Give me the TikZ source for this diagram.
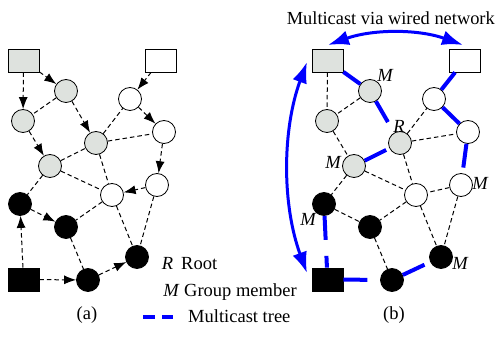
\documentclass[tikz,border=0pt]{standalone}
\usepackage{fontspec}
\setmainfont{Liberation Serif}
\usetikzlibrary{arrows.meta}
\definecolor{nodegray}{RGB}{222,226,222}
\definecolor{treeblue}{RGB}{0,0,255}
\begin{document}
\begin{tikzpicture}[x=1pt,y=-1pt,
  every node/.style={font=\fontsize{18.5}{22}\selectfont},
  cnode/.style={circle,draw,line width=0.8pt,minimum size=23pt,inner sep=0pt},
  gnode/.style={cnode,fill=nodegray},
  wnode/.style={cnode,fill=white},
  bnode/.style={cnode,fill=black},
  rnode/.style={rectangle,draw,line width=0.8pt,minimum width=31pt,minimum height=23pt,inner sep=0pt},
  link/.style={line width=1pt,dash pattern=on 4.5pt off 3pt},
  arr/.style={link,-{Latex[length=12pt,width=9pt]}},
  tree/.style={treeblue,line width=4pt,dash pattern=on 24pt off 16pt},
  big/.style={treeblue,line width=3pt,{Latex[length=21pt,width=15pt]}-{Latex[length=21pt,width=15pt]}},
  lbl/.style={font=\itshape\fontsize{18.5}{22}\selectfont,inner sep=0pt},
  txt/.style={inner sep=0pt}
]
\useasboundingbox (0,0) rectangle (496,339);

% ---------- panel (a) ----------
\node[rnode,fill=nodegray] (aGR) at (23.5,60.5) {};
\node[rnode,fill=white] (aWR) at (160.5,60.5) {};
\node[rnode,fill=black] (aBR) at (23.5,279.5) {};
\node[gnode] (ag1) at (66,91) {};
\node[gnode] (ag2) at (23,121) {};
\node[gnode] (ag3) at (96,143) {};
\node[gnode] (ag4) at (50,166) {};
\node[wnode] (aw1) at (130,99) {};
\node[wnode] (aw2) at (164,132) {};
\node[wnode] (aw3) at (157,185) {};
\node[wnode] (aw4) at (112,195) {};
\node[bnode] (ab1) at (20,204) {};
\node[bnode] (ab2) at (66,227) {};
\node[bnode] (ab3) at (137,257) {};
\node[bnode] (ab4) at (88,280) {};

\foreach \s/\t in {aGR/ag2,aGR/ag1,ag1/ag3,ag2/ag4,aWR/aw1,aw1/aw2,aw2/aw3,aw3/aw4,ab1/ab2,aBR/ab1,aBR/ab4,ab4/ab3}
  \draw[arr] (\s) -- (\t);
\foreach \s/\t in {ag1/ag2,ag4/ag3,ag3/aw1,ag3/aw2,ag3/aw4,ag4/aw4,ag4/ab1,aw4/ab2,aw4/ab3,aw3/ab3,ab2/ab4}
  \draw[link] (\s) -- (\t);

\node[txt,anchor=base] (capa) at (87,320) {(a)};

% ---------- panel (b) ----------
\node[rnode,fill=nodegray] (bGR) at (327.5,60.5) {};
\node[rnode,fill=white] (bWR) at (464.5,60.5) {};
\node[rnode,fill=black] (bBR) at (327.5,279.5) {};
\node[gnode] (bg1) at (370,91) {};
\node[gnode] (bg2) at (327,121) {};
\node[gnode] (bg3) at (400,143) {};
\node[gnode] (bg4) at (354,166) {};
\node[wnode] (bw1) at (434,99) {};
\node[wnode] (bw2) at (468,132) {};
\node[wnode] (bw3) at (461,185) {};
\node[wnode] (bw4) at (416,195) {};
\node[bnode] (bb1) at (324,204) {};
\node[bnode] (bb2) at (370,227) {};
\node[bnode] (bb3) at (441,257) {};
\node[bnode] (bb4) at (392,280) {};

\foreach \s/\t in {bGR/bg2,bg1/bg2,bg2/bg4,bg3/bw1,bg3/bw2,bg3/bw4,bg4/bw4,bg4/bb1,bw3/bw4,bw4/bb2,bw4/bb3,bw3/bb3,bb1/bb2,bb2/bb4}
  \draw[link] (\s) -- (\t);
\foreach \s/\t in {bGR/bg1,bg1/bg3,bg4/bg3,bWR/bw1,bw1/bw2,bw2/bw3,bb1/bBR,bBR/bb4,bb4/bb3}
  \draw[tree] (\s) -- (\t);

\node[lbl] (m1) at (385,75) {M};
\node[lbl] (rr) at (399,126) {R};
\node[lbl] (m2) at (333,162) {M};
\node[lbl] (m3) at (480,183) {M};
\node[lbl] (m4) at (308,219) {M};
\node[lbl] (m5) at (460,263) {M};

\coordinate (tl) at (328,45);
\coordinate (tr) at (463,45);
\coordinate (lt) at (307,62);
\coordinate (lb) at (307,273);
\draw[big] (tl) .. controls (373,29) and (418,29) .. (tr);
\draw[big] (lt) .. controls (282,130) and (282,205) .. (lb);

\node[txt,anchor=base east,font=\fontsize{18.4}{22}\selectfont] (title) at (495,25) {Multicast via wired network};
\node[txt,anchor=base] (capb) at (394,320) {(b)};

% ---------- legend ----------
\node[lbl,anchor=base] (legR) at (167.5,270) {R};
\node[txt,anchor=base west] (legRoot) at (181,270) {Root};
\node[lbl,anchor=base] (legM) at (171,297) {M};
\node[txt,anchor=base west] (legGM) at (184,297) {Group member};
\coordinate (ls) at (143,317);
\coordinate (le) at (173,317);
\draw[treeblue,line width=4pt,dash pattern=on 12pt off 7pt] (ls) -- (le);
\node[txt,anchor=base west] (legMT) at (188,323) {Multicast tree};
\end{tikzpicture}
\end{document}
